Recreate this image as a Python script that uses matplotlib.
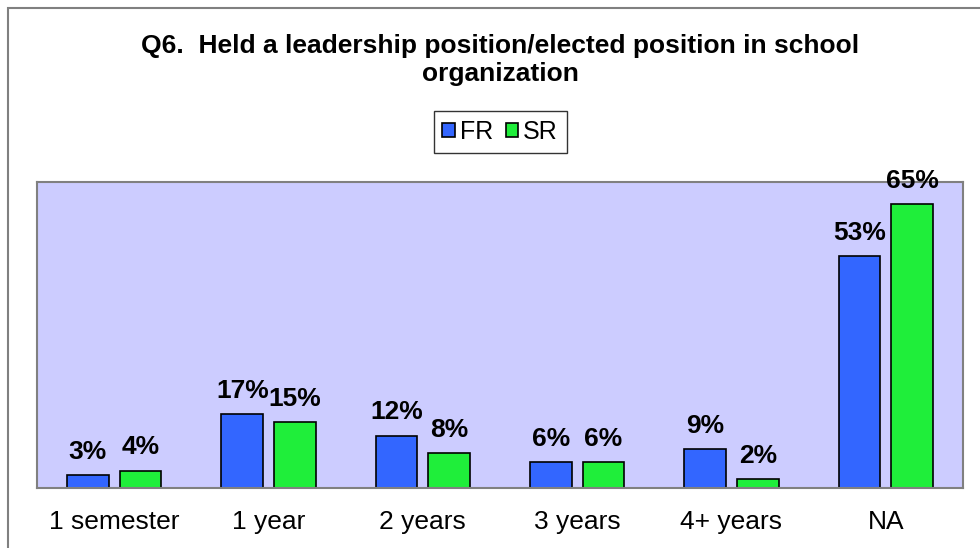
import matplotlib.pyplot as plt
import numpy as np
from matplotlib.patches import Rectangle

# ---------------- Daten ----------------
kategorien = ["1 semester", "1 year", "2 years", "3 years", "4+ years", "NA"]
fr_werte = [3, 17, 12, 6, 9, 53]
sr_werte = [4, 15, 8, 6, 2, 65]
titel = "Q6.  Held a leadership position/elected position in school\norganization"

plt.rcParams['font.family'] = ['Liberation Sans', 'DejaVu Sans']

fig = plt.figure(figsize=(9.8, 5.48), dpi=100)
W, H = 980, 548

# Rahmen um das Diagramm
fig.patches.append(Rectangle((8 / W, -0.2), 1.2, 1.2 - 8 / H, transform=fig.transFigure,
                             fill=False, edgecolor='#808080', linewidth=1.5))

ax = fig.add_axes([37 / W, (H - 488) / H, (963 - 37) / W, (488 - 182) / H])
ax.set_facecolor('#CCCCFF')
for s in ax.spines.values():
    s.set_edgecolor('#808080')
    s.set_linewidth(1.5)

x = np.arange(len(kategorien))
breite = 0.27
b1 = ax.bar(x - 0.17, fr_werte, breite, color='#3366FF', edgecolor='black', linewidth=1.2, label='FR')
b2 = ax.bar(x + 0.17, sr_werte, breite, color='#1FEE3A', edgecolor='black', linewidth=1.2, label='SR')

for bars in (b1, b2):
    for b in bars:
        ax.annotate(f"{b.get_height():.0f}%", (b.get_x() + b.get_width() / 2, b.get_height()),
                    xytext=(0, 8), textcoords='offset points', ha='center', va='bottom',
                    fontsize=19, fontweight='bold', annotation_clip=False)

ax.set_xlim(-0.5, len(kategorien) - 0.5)
ax.set_ylim(0, 70)
ax.set_yticks([])
ax.set_xticks(x)
ax.set_xticklabels(kategorien, fontsize=19)
ax.tick_params(axis='x', length=0, pad=16)

fig.text(500 / W, 1 - 60 / H, titel, ha='center', va='center', fontsize=19,
         fontweight='bold', linespacing=1.25)

leg = fig.legend(handles=[b1, b2], loc='center', bbox_to_anchor=(500 / W, 1 - 132 / H),
                 ncol=2, fontsize=18, frameon=True, fancybox=False, handlelength=0.5,
                 handleheight=0.5, handletextpad=0.2, columnspacing=0.5, borderpad=0.35)
leg.get_frame().set_edgecolor('black')
leg.get_frame().set_linewidth(1.0)

fig.savefig("out.png", dpi=100)
